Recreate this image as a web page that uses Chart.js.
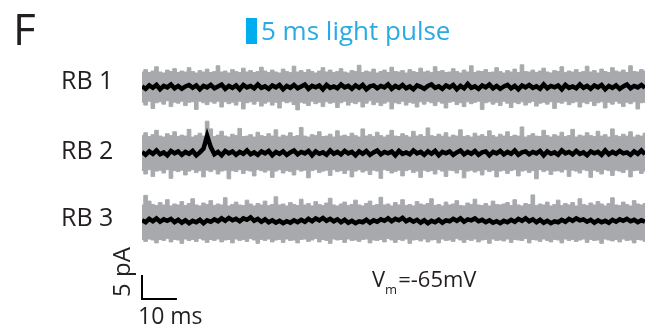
<!DOCTYPE html>
<html lang="en">
<head>
    <meta charset="UTF-8">
    <title>Light pulse traces</title>
    <style>
        html, body { margin: 0; padding: 0; background: #fff; }
        #wrap { position: relative; width: 648px; height: 331px; }
    </style>
</head>
<body>
    <div id="wrap"><canvas id="myChart" width="648" height="331"></canvas></div>
    <script src="https://cdn.jsdelivr.net/npm/chart.js"></script>
    <script>
        // trace names and vertical offsets (pA)
        const traceNames = ['RB 1', 'RB 2', 'RB 3'];
        const traceOffsets = [0, -13.75, -27.9];
        const DURATION = 144; // ms shown

        // grey band: upper / lower edge of the individual sweeps (pA, relative to trace)
        const rb1Hi = [
            3.1,3.6,3.0,3.3,4.2,3.1,2.9,3.5,3.2,3.8,3.0,3.3,3.1,4.0,3.2,2.9,3.4,3.1,3.7,3.0,
            3.2,4.4,3.1,3.3,2.9,3.6,3.2,3.0,3.9,3.1,3.4,3.0,3.2,4.1,3.3,3.0,3.5,3.1,2.9,3.7,
            3.2,3.0,4.3,3.1,3.4,3.0,3.6,3.2,2.9,3.3,4.0,3.1,3.5,3.0,3.2,3.8,3.1,2.9,3.4,3.2,
            4.5,3.0,3.3,3.1,3.7,2.9,3.2,3.5,3.0,4.1,3.2,3.1,3.4,2.9,3.6,3.2,3.0,3.9,3.1,3.3,
            3.0,4.2,3.2,3.4,3.0,3.1,3.8,3.2,2.9,3.5,3.1,4.4,3.0,3.3,3.2,3.6,3.0,3.1,4.0,3.2,
            2.9,3.4,3.1,3.7,3.0,4.6,3.2,3.1,3.5,3.0,3.3,3.9,3.1,2.9,3.4,3.2,4.2,3.0,3.3,3.1,
            3.6,3.0,3.2,4.3,3.1,3.4,2.9,3.7,3.2,3.0,4.0,3.3,3.1,3.5,3.0,4.4,3.2,3.1,3.6,3.3];
        const rb1Lo = [
            -3.2,-3.8,-3.0,-4.5,-3.3,-3.1,-3.6,-2.9,-4.1,-3.2,-3.4,-3.0,-3.9,-3.2,-3.1,-4.7,-3.0,-3.3,-3.7,-3.1,
            -3.4,-3.0,-4.2,-3.1,-3.5,-3.2,-3.8,-3.0,-4.6,-3.3,-3.1,-3.6,-3.0,-4.0,-3.4,-3.1,-3.8,-3.2,-4.4,-3.0,
            -3.3,-3.1,-3.7,-4.8,-3.2,-3.4,-3.9,-3.0,-3.5,-3.2,-4.1,-3.1,-3.4,-3.2,-4.3,-3.3,-3.0,-3.8,-3.2,-3.5,
            -3.1,-4.2,-3.4,-2.9,-3.7,-3.2,-3.9,-3.4,-3.1,-4.6,-3.3,-3.5,-3.0,-3.8,-3.2,-3.4,-4.2,-3.1,-3.6,-3.0,
            -3.3,-3.9,-3.1,-3.4,-4.4,-3.2,-3.0,-3.7,-3.3,-4.1,-3.1,-3.5,-3.2,-3.0,-4.7,-3.3,-3.1,-3.6,-3.2,-3.9,
            -3.0,-3.4,-4.3,-3.2,-3.5,-3.1,-3.8,-3.3,-3.0,-4.0,-3.4,-3.2,-3.6,-3.1,-4.5,-3.2,-3.4,-3.0,-3.7,-3.3,
            -3.1,-4.2,-3.2,-3.5,-3.0,-3.9,-3.3,-3.1,-4.4,-3.2,-3.6,-3.0,-3.4,-4.1,-3.2,-3.5,-3.1,-4.6,-3.3,-3.2];
        const rb2Hi = [
            3.6,4.2,3.4,3.8,4.7,3.5,3.3,4.0,3.6,4.4,3.4,3.7,3.5,4.9,3.3,3.6,4.1,3.5,6.6,5.0,
            3.4,3.7,4.5,3.5,3.3,3.9,3.6,5.1,3.4,3.5,3.8,3.3,4.3,3.6,3.4,4.0,3.5,4.8,3.3,3.7,
            3.5,4.2,3.4,3.6,5.3,3.5,3.3,3.8,3.6,4.4,3.4,3.5,3.9,3.3,4.6,3.5,3.7,3.4,4.1,3.6,
            3.3,5.0,3.5,3.8,3.4,4.3,3.6,3.3,3.7,4.7,3.5,3.4,4.0,3.6,3.3,4.5,3.5,3.8,3.4,5.2,
            3.6,3.4,3.9,3.5,4.2,3.3,3.7,3.5,4.8,3.4,3.6,3.3,4.1,3.5,3.8,3.4,4.6,3.6,3.3,3.9,
            3.5,4.4,3.4,3.7,3.5,5.4,3.3,3.6,4.0,3.5,3.4,4.7,3.6,3.3,3.8,3.5,4.3,3.4,3.6,4.9,
            3.3,3.7,3.5,4.2,3.6,3.4,4.5,3.5,3.8,3.3,5.0,3.6,3.4,3.9,3.5,4.4,3.3,3.7,3.5,4.1];
        const rb2Lo = [
            -3.7,-4.4,-3.5,-4.9,-3.8,-3.6,-4.2,-3.5,-5.3,-3.7,-3.9,-3.6,-4.6,-3.8,-3.5,-4.1,-3.7,-5.0,-3.6,-3.9,
            -3.5,-4.4,-3.8,-3.6,-5.4,-3.7,-3.9,-3.5,-4.3,-3.6,-3.8,-4.8,-3.5,-3.7,-4.0,-3.6,-5.1,-3.8,-3.5,-4.2,
            -3.7,-3.9,-4.6,-3.5,-3.8,-3.6,-5.2,-3.7,-3.5,-4.1,-3.8,-3.6,-4.7,-3.5,-3.9,-3.7,-4.3,-3.6,-5.0,-3.8,
            -3.5,-4.0,-3.7,-4.5,-3.6,-3.8,-5.3,-3.5,-3.7,-4.2,-3.9,-3.6,-4.8,-3.7,-3.5,-4.1,-3.8,-5.1,-3.6,-3.9,
            -3.7,-4.4,-3.5,-3.8,-4.9,-3.6,-3.7,-4.2,-3.5,-5.2,-3.8,-3.6,-4.0,-3.7,-4.6,-3.5,-3.9,-3.6,-5.0,-3.8,
            -3.6,-4.3,-3.7,-3.5,-4.8,-3.8,-3.6,-4.1,-3.7,-5.4,-3.5,-3.9,-3.6,-4.5,-3.8,-3.7,-4.0,-3.5,-4.9,-3.6,
            -3.8,-4.2,-3.5,-3.7,-5.1,-3.6,-3.9,-4.4,-3.5,-3.7,-4.7,-3.6,-3.8,-4.1,-3.5,-5.0,-3.7,-3.6,-4.3,-3.8];
        const rb3Hi = [
            3.3,5.3,4.1,3.4,3.2,3.8,3.3,4.4,3.1,3.5,3.3,4.0,3.2,3.6,4.6,3.3,3.1,3.7,3.4,4.2,
            3.2,3.5,3.3,4.8,3.1,3.4,3.9,3.3,3.2,4.3,3.5,3.1,3.6,3.3,4.1,3.2,3.4,5.0,3.3,3.5,
            3.1,3.8,3.4,3.2,4.5,3.3,3.6,3.1,4.0,3.4,3.2,3.7,4.7,3.3,3.1,3.5,3.9,3.2,3.4,4.3,
            3.3,3.1,3.6,4.1,3.2,3.4,4.9,3.3,3.5,3.1,3.8,3.3,4.4,3.2,3.4,3.1,4.0,3.5,3.3,3.6,
            4.6,3.2,3.4,3.1,3.9,3.3,3.5,4.2,3.2,3.1,3.7,3.4,4.5,3.3,3.2,3.6,3.1,4.1,3.4,3.3,
            3.5,3.8,3.2,4.4,3.3,3.1,3.6,3.4,5.4,3.2,3.5,3.3,3.9,3.1,3.4,4.3,3.2,3.6,3.3,3.8,
            3.1,4.6,3.4,3.2,3.7,3.3,4.0,3.5,3.1,3.6,4.8,3.3,3.2,3.9,3.4,3.1,4.2,3.5,3.3,3.6];
        const rb3Lo = [
            -3.9,-4.3,-3.8,-4.0,-4.6,-3.9,-4.1,-3.7,-4.4,-3.9,-4.0,-4.7,-3.8,-4.1,-3.9,-4.3,-3.7,-4.0,-4.5,-3.9,
            -4.1,-3.8,-4.4,-4.0,-3.9,-4.6,-3.8,-4.1,-3.9,-4.3,-3.7,-4.0,-4.7,-3.9,-4.1,-3.8,-4.4,-4.0,-3.9,-4.5,
            -3.8,-4.1,-4.0,-4.6,-3.9,-3.8,-4.3,-4.0,-3.7,-4.4,-3.9,-4.1,-4.7,-3.8,-4.0,-3.9,-4.5,-3.8,-4.1,-4.0,
            -4.3,-3.9,-3.8,-4.6,-4.0,-4.1,-3.9,-4.4,-3.7,-4.0,-4.5,-3.9,-4.1,-3.8,-4.7,-4.0,-3.9,-4.2,-3.8,-4.4,
            -4.0,-3.9,-4.6,-3.8,-4.1,-4.0,-4.3,-3.7,-4.0,-4.5,-3.9,-4.1,-3.8,-4.4,-4.0,-3.9,-4.7,-3.8,-4.1,-4.0,
            -4.2,-3.8,-4.5,-3.9,-4.0,-4.1,-3.7,-4.6,-3.9,-4.0,-4.3,-3.8,-4.1,-4.4,-3.9,-4.0,-4.6,-3.8,-4.1,-3.9,
            -4.3,-4.0,-3.8,-4.5,-3.9,-4.1,-4.0,-4.7,-3.8,-4.0,-4.2,-3.9,-4.4,-3.8,-4.1,-4.0,-4.6,-3.9,-4.0,-4.3];

        // black: average trace (pA, relative to trace)
        const rb1Mean = [
            0.1,-0.4,0.3,-0.2,0.4,-0.5,0.2,-0.1,0.5,-0.3,0.2,-0.4,0.1,0.4,-0.2,0.3,-0.5,0.2,-0.1,0.4,
            -0.3,0.1,0.5,-0.4,0.2,-0.2,0.3,-0.5,0.4,-0.1,0.2,-0.3,0.5,-0.2,0.1,-0.4,0.3,-0.1,0.4,-0.5,
            0.2,-0.2,0.4,-0.3,0.1,0.5,-0.4,0.2,-0.1,0.3,-0.5,0.4,-0.2,0.1,-0.3,0.5,-0.1,0.2,-0.4,0.3,
            -0.2,0.4,-0.5,0.1,0.3,-0.3,0.2,-0.1,0.5,-0.4,0.2,-0.2,0.4,-0.3,0.1,-0.5,0.3,0.0,-0.4,0.2,
            0.5,-0.2,0.1,-0.4,0.3,-0.1,0.4,-0.5,0.2,-0.3,0.6,-0.2,0.1,-0.4,0.3,-0.1,0.5,-0.3,0.2,-0.4,
            0.1,0.4,-0.3,0.2,-0.5,0.3,-0.1,0.4,-0.2,0.1,-0.4,0.5,-0.3,0.2,-0.1,0.3,-0.5,0.4,-0.2,0.1,
            -0.3,0.5,-0.2,0.2,-0.4,0.3,-0.1,0.4,-0.5,0.2,-0.2,0.3,-0.4,0.1,0.5,-0.3,0.2,-0.1,0.4,-0.2];
        const rb2Mean = [
            0.2,-0.4,0.3,-0.2,0.5,-0.3,0.1,-0.5,0.4,-0.1,0.3,-0.4,0.2,-0.2,0.4,-0.5,0.1,0.9,3.6,1.2,
            -0.3,0.2,-0.5,0.4,-0.1,0.3,-0.4,0.2,-0.2,0.5,-0.3,0.1,-0.4,0.3,-0.1,0.4,-0.5,0.2,-0.2,0.3,
            -0.4,0.1,0.5,-0.3,0.2,-0.1,0.4,-0.5,0.3,-0.2,0.1,-0.4,0.5,-0.2,0.2,-0.3,0.4,-0.1,0.2,-0.5,
            0.3,-0.2,0.4,-0.4,0.1,0.5,-0.3,0.2,-0.1,0.3,-0.5,0.4,-0.2,0.1,-0.3,0.5,-0.1,0.2,-0.4,0.3,
            -0.2,0.4,-0.5,0.2,-0.1,0.3,-0.4,0.1,0.5,-0.3,0.2,-0.2,0.4,-0.4,0.1,0.3,-0.5,0.2,-0.1,0.4,
            -0.3,0.2,-0.2,0.5,-0.4,0.1,0.3,-0.3,0.2,-0.1,0.4,-0.5,0.3,-0.2,0.1,-0.4,0.5,-0.1,0.2,-0.3,
            0.4,-0.2,0.1,-0.5,0.3,-0.1,0.2,-0.4,0.5,-0.3,0.2,-0.2,0.4,-0.1,0.1,-0.4,0.3,-0.2,0.5,-0.3];
        const rb3Mean = [
            0.1,-0.3,0.4,-0.1,0.5,-0.2,0.3,0.0,0.4,-0.3,0.2,-0.4,0.1,-0.5,0.0,-0.3,0.2,-0.5,0.1,-0.2,
            0.3,-0.1,0.5,0.0,0.6,0.1,0.4,-0.1,0.5,0.2,0.7,0.0,0.4,-0.2,0.3,-0.3,0.1,-0.4,0.0,-0.5,
            -0.1,-0.4,0.1,-0.3,0.2,-0.2,0.4,-0.1,0.5,0.1,0.6,0.0,0.4,-0.1,0.3,-0.3,0.2,-0.4,0.0,-0.5,
            -0.1,-0.3,0.2,-0.4,0.1,-0.2,0.3,0.0,0.5,-0.1,0.4,0.1,0.6,-0.1,0.3,-0.2,0.2,-0.4,0.1,-0.5,
            0.0,-0.3,0.2,-0.4,0.1,-0.1,0.4,0.0,0.5,-0.2,0.3,0.1,0.5,-0.1,0.2,-0.3,0.1,-0.4,-0.1,-0.5,
            0.0,-0.3,0.2,-0.2,0.4,0.0,0.5,-0.1,0.3,-0.3,0.2,-0.4,0.0,-0.5,-0.1,-0.3,0.2,-0.2,0.4,0.0,
            0.5,0.1,0.3,-0.2,0.2,-0.4,0.1,-0.3,0.0,-0.4,0.2,-0.2,0.3,0.0,0.4,-0.1,0.2,-0.3,0.1,-0.2];

        const hiSets = [rb1Hi, rb2Hi, rb3Hi];
        const loSets = [rb1Lo, rb2Lo, rb3Lo];
        const meanSets = [rb1Mean, rb2Mean, rb3Mean];

        // scale bar
        const SCALE_MS = 10;
        const SCALE_PA = 5;
        const SCALE_BASE = -44.2;

        const GREY = '#a7a9ac';
        const BLUE = '#00aeef';
        const INK = '#231f20';

        function toPoints(values, offset) {
            return values.map((v, i) => ({ x: i * DURATION / (values.length - 1), y: v + offset }));
        }

        const datasets = [];
        traceNames.forEach((name, t) => {
            datasets.push({
                label: name + ' sweeps',
                data: toPoints(hiSets[t], traceOffsets[t]),
                borderColor: GREY,
                backgroundColor: GREY,
                borderWidth: 1,
                stepped: 'middle',
                fill: '+1',
                order: 2
            });
            datasets.push({
                label: name + ' sweeps low',
                data: toPoints(loSets[t], traceOffsets[t]),
                borderColor: GREY,
                borderWidth: 1,
                stepped: 'middle',
                fill: false,
                order: 2
            });
        });
        traceNames.forEach((name, t) => {
            datasets.push({
                label: name,
                data: toPoints(meanSets[t], traceOffsets[t]),
                borderColor: '#000',
                borderWidth: 4.5,
                borderJoinStyle: 'miter',
                fill: false,
                order: 1
            });
        });

        const labelsPlugin = {
            id: 'labels',
            afterDraw(chart) {
                const ctx = chart.ctx;
                const xs = chart.scales.x;
                const ys = chart.scales.y;
                ctx.save();
                ctx.textBaseline = 'alphabetic';
                ctx.textAlign = 'left';

                // panel letter
                ctx.fillStyle = INK;
                ctx.font = '400 44px "Open Sans"';
                ctx.fillText('F', 13, 45);

                // light pulse legend
                ctx.fillStyle = BLUE;
                ctx.fillRect(246, 18, 11, 26);
                ctx.fillStyle = '#29abe2';
                ctx.font = '26px "Open Sans"';
                ctx.fillText('5 ms light pulse', 261, 40);

                // trace names
                ctx.fillStyle = INK;
                ctx.font = '25px "Open Sans"';
                const baselines = [89, 159, 226];
                traceNames.forEach((name, t) => {
                    ctx.fillText(name, 61, baselines[t]);
                });

                // scale bar
                const x0 = xs.getPixelForValue(0);
                const x1 = xs.getPixelForValue(SCALE_MS);
                const yb = ys.getPixelForValue(SCALE_BASE);
                const yt = ys.getPixelForValue(SCALE_BASE + SCALE_PA);
                ctx.strokeStyle = '#000';
                ctx.lineWidth = 2;
                ctx.beginPath();
                ctx.moveTo(x0, yt);
                ctx.lineTo(x0, yb);
                ctx.lineTo(x1, yb);
                ctx.stroke();

                ctx.fillStyle = INK;
                ctx.font = '23px "Open Sans"';
                ctx.fillText('10 ms', 138, 324);

                ctx.save();
                ctx.translate(130, 297);
                ctx.rotate(-Math.PI / 2);
                ctx.font = '24px "Open Sans"';
                ctx.fillText('5 pA', 0, 0);
                ctx.restore();

                // holding potential
                let vx = 372;
                ctx.font = '22px "Open Sans"';
                ctx.fillText('V', vx, 287);
                vx += ctx.measureText('V').width;
                ctx.font = '13px "Open Sans"';
                ctx.fillText('m', vx, 294);
                vx += ctx.measureText('m').width + 1;
                ctx.font = '22px "Open Sans"';
                ctx.fillText('=-65mV', vx, 287);

                ctx.restore();
            }
        };

        new Chart(document.getElementById('myChart'), {
            type: 'line',
            data: { datasets: datasets },
            options: {
                responsive: false,
                animation: false,
                events: [],
                layout: { padding: { left: 142, right: 3, top: 60, bottom: 31 } },
                elements: { point: { radius: 0 }, line: { tension: 0 } },
                scales: {
                    x: { type: 'linear', min: 0, max: DURATION, display: false },
                    y: { min: -44.4, max: 5.6, display: false }
                },
                plugins: {
                    legend: { display: false },
                    tooltip: { enabled: false }
                }
            },
            plugins: [labelsPlugin]
        });
    </script>
</body>
</html>
